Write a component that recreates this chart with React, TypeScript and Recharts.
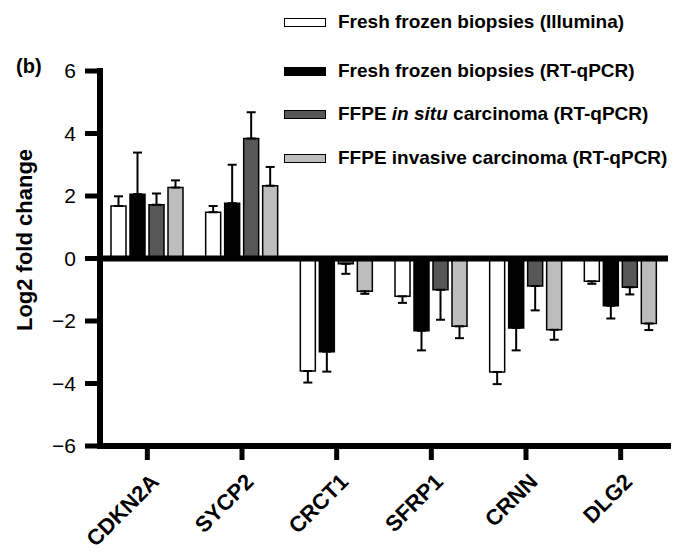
import React from 'react';
import { BarChart, Bar, XAxis, YAxis, ErrorBar, ReferenceLine, Legend } from 'recharts';

// Gene names on the x axis
const genes = ['CDKN2A', 'SYCP2', 'CRCT1', 'SFRP1', 'CRNN', 'DLG2'];

// Log2 fold change per sample type, with one-sided SEM
const illumina = [1.68, 1.48, -3.6, -1.21, -3.63, -0.73];
const illuminaErr = [0.31, 0.2, 0.37, 0.21, 0.39, 0.08];
const ffRtqpcr = [2.06, 1.77, -2.98, -2.31, -2.22, -1.51];
const ffRtqpcrErr = [1.33, 1.23, 0.64, 0.63, 0.72, 0.41];
const inSitu = [1.72, 3.84, -0.17, -1.0, -0.88, -0.92];
const inSituErr = [0.36, 0.84, 0.32, 0.96, 0.78, 0.23];
const invasive = [2.27, 2.33, -1.05, -2.17, -2.28, -2.08];
const invasiveErr = [0.23, 0.6, 0.08, 0.38, 0.32, 0.21];

const yTicks = [-6, -4, -2, 0, 2, 4, 6];

const FONT = '"Liberation Sans", Arial, sans-serif';

const series = [
  { key: 'illumina', values: illumina, errs: illuminaErr, fill: '#ffffff' },
  { key: 'ffRtqpcr', values: ffRtqpcr, errs: ffRtqpcrErr, fill: '#000000' },
  { key: 'inSitu', values: inSitu, errs: inSituErr, fill: '#575757' },
  { key: 'invasive', values: invasive, errs: invasiveErr, fill: '#bdbdbd' },
];

// error only drawn away from zero
const oneSided = (v: number, e: number) => (v >= 0 ? [0, e] : [e, 0]);

const data = genes.map((g, i) => {
  const row: any = { gene: g };
  series.forEach(s => {
    row[s.key] = s.values[i];
    row[s.key + 'Err'] = oneSided(s.values[i], s.errs[i]);
  });
  return row;
});

const legendRows = [
  { fill: '#ffffff', label: <>Fresh frozen biopsies (Illumina)</>, cy: 22 },
  { fill: '#000000', label: <>Fresh frozen biopsies (RT-qPCR)</>, cy: 71 },
  { fill: '#575757', label: <>FFPE <i>in situ</i> carcinoma (RT-qPCR)</>, cy: 114 },
  { fill: '#bdbdbd', label: <>FFPE invasive carcinoma (RT-qPCR)</>, cy: 158 },
];

const AXIS_W = 6;
const TICK_W = 5;

const renderLegend = () => (
  <div style={{ position: 'relative', width: 395, height: 175 }}>
    {legendRows.map((r, i) => (
      <div
        key={i}
        style={{
          position: 'absolute',
          top: r.cy - 12,
          height: 24,
          left: 0,
          display: 'flex',
          alignItems: 'center',
          fontFamily: FONT,
          fontWeight: 700,
          fontSize: 19,
          color: '#000',
          whiteSpace: 'nowrap',
        }}
      >
        <span
          style={{
            display: 'inline-block',
            boxSizing: 'border-box',
            width: 42,
            height: 9,
            background: r.fill,
            border: '1.5px solid #000',
            marginRight: 12,
          }}
        />
        <span>{r.label}</span>
      </div>
    ))}
  </div>
);

const GeneTick = ({ x, y, payload }: any) => (
  <g transform={`translate(${x + 13},${y + 21})`}>
    <text
      textAnchor="end"
      transform="rotate(-45)"
      fontFamily={FONT}
      fontWeight={700}
      fontSize={22}
      fill="#000"
    >
      {payload.value}
    </text>
  </g>
);

const YLabel = () => {
  const cy = 240;
  return (
    <text
      x={32}
      y={cy}
      transform={`rotate(-90, 32, ${cy})`}
      textAnchor="middle"
      fontFamily={FONT}
      fontWeight={700}
      fontSize={22}
      fill="#000"
    >
      Log2 fold change
    </text>
  );
};

export default function App() {
  return (
    <div style={{ position: 'absolute', left: 0, top: 0, width: 679, height: 552, background: '#fff' }}>
      <div
        style={{
          position: 'absolute',
          left: 16,
          top: 55,
          fontFamily: FONT,
          fontWeight: 700,
          fontSize: 20,
        }}
      >
        (b)
      </div>
      <BarChart
        width={679}
        height={552}
        data={data}
        margin={{ top: 71, right: 11, bottom: 5, left: 0 }}
        barSize={15}
        barGap={4}
      >
        <XAxis
          dataKey="gene"
          height={101}
          stroke="#000"
          strokeWidth={AXIS_W}
          axisLine={{ stroke: '#000', strokeWidth: AXIS_W, strokeLinecap: 'square' }}
          tickLine={{ stroke: '#000', strokeWidth: TICK_W }}
          tickSize={14}
          tick={<GeneTick />}
          interval={0}
        />
        <YAxis
          width={100}
          domain={[-6, 6]}
          ticks={yTicks}
          allowDataOverflow
          stroke="#000"
          strokeWidth={AXIS_W}
          axisLine={{ stroke: '#000', strokeWidth: AXIS_W, strokeLinecap: 'square' }}
          tickLine={{ stroke: '#000', strokeWidth: TICK_W }}
          tickSize={15}
          tickMargin={9}
          tick={{ fill: '#000', stroke: 'none', fontSize: 21, fontFamily: FONT }}
          tickFormatter={(v: number) => String(v).replace('-', '\u2212')}
          label={<YLabel />}
        />
        <Legend
          content={renderLegend}
          layout="horizontal"
          verticalAlign="middle"
          wrapperStyle={{ position: 'absolute', top: 0, left: 284, width: 395 }}
        />
        {series.map(s => (
          <Bar
            key={s.key}
            dataKey={s.key}
            fill={s.fill}
            stroke="#000"
            strokeWidth={1.5}
            isAnimationActive={false}
          >
            <ErrorBar dataKey={s.key + 'Err'} width={4.5} stroke="#000" strokeWidth={2} direction="y" />
          </Bar>
        ))}
        <ReferenceLine y={0} stroke="#000" strokeWidth={AXIS_W} />
      </BarChart>
    </div>
  );
}
